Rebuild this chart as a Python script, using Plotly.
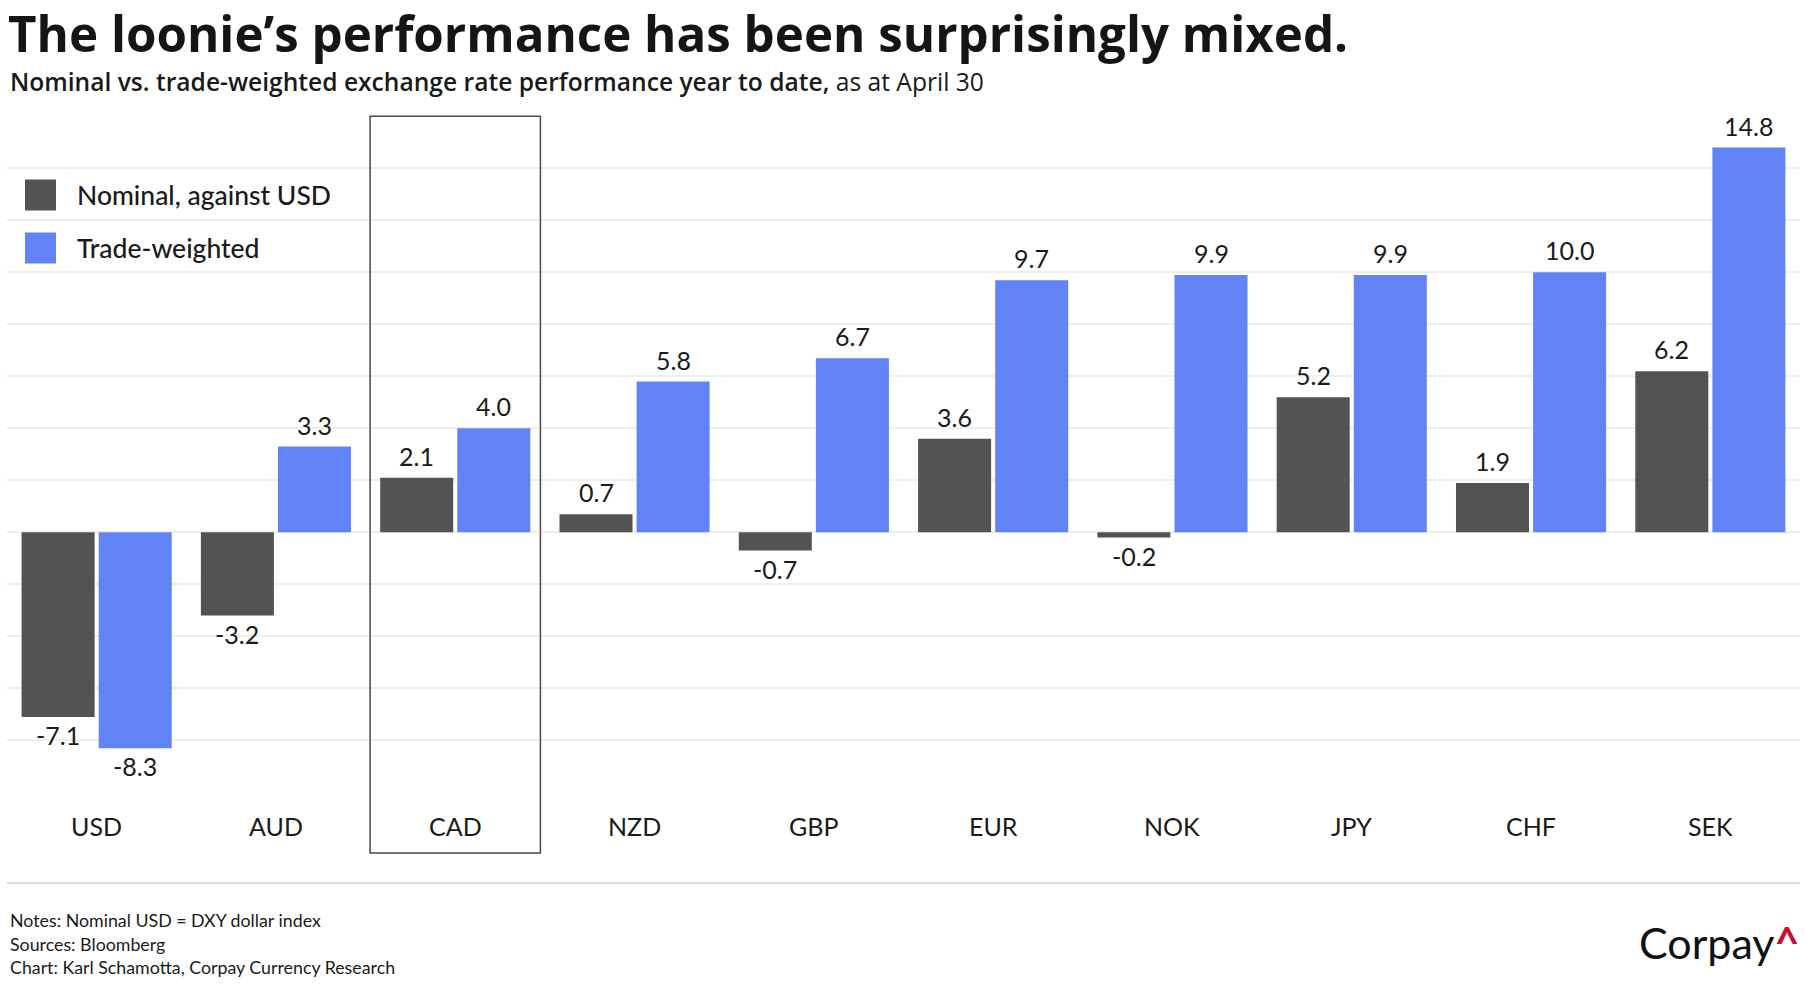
import plotly.graph_objects as go

# ---- data ----
categories = ["USD", "AUD", "CAD", "NZD", "GBP", "EUR", "NOK", "JPY", "CHF", "SEK"]
nominal = [-7.1, -3.2, 2.1, 0.7, -0.7, 3.6, -0.2, 5.2, 1.9, 6.2]
trade_weighted = [-8.3, 3.3, 4.0, 5.8, 6.7, 9.7, 9.9, 9.9, 10.0, 14.8]
series_names = ["Nominal, against USD", "Trade-weighted"]
highlight = "CAD"
grid_vals = list(range(-8, 15, 2))

title = "The loonie\u2019s performance has been surprisingly mixed."
subtitle_bold = "Nominal vs. trade-weighted exchange rate performance year to date,"
subtitle_rest = " as at April 30"
notes = ["Notes: Nominal USD = DXY dollar index",
         "Sources: Bloomberg",
         "Chart: Karl Schamotta, Corpay Currency Research"]

# ---- style ----
W, H = 1807, 1000
ML, MR, MT, MB = 7, 7, 108, 140
COL_NOM = "#535353"
COL_TW = "#6283f5"
FONT = "Lato"
HEAD_FONT = "Open Sans"
TXT = "#1a1a1a"
BARGAP = 0.14
BARGROUPGAP = 0.053
YRANGE = [-12.6, 16.32]

def px2x(px):
    return (px - ML) / (W - ML - MR)

def py2y(py):
    return (H - MB - py) / (H - MT - MB)

fig = go.Figure()
for vals, name, col in [(nominal, series_names[0], COL_NOM),
                        (trade_weighted, series_names[1], COL_TW)]:
    fig.add_trace(go.Bar(x=categories, y=vals, name=name, marker_color=col,
                         marker_line_width=0, showlegend=False))

annotations = []
slot = (1 - BARGAP) / 2
for k, vals in enumerate([nominal, trade_weighted]):
    off = (k - 0.5) * slot
    for i, v in enumerate(vals):
        annotations.append(dict(
            x=i + off, y=v, xref="x", yref="y", text=f"{v:.1f}", showarrow=False,
            yanchor="bottom" if v >= 0 else "top", yshift=5 if v >= 0 else -1,
            font=dict(family=FONT, size=25, color=TXT)))

# category labels
for i, c in enumerate(categories):
    annotations.append(dict(x=i, y=py2y(826), xref="x", yref="paper", text=c,
                            showarrow=False, yanchor="middle",
                            font=dict(family=FONT, size=25, color=TXT)))

# title / subtitle
annotations.append(dict(x=px2x(6), y=py2y(32.5), xref="paper", yref="paper",
                        xanchor="left", yanchor="middle", showarrow=False,
                        text=title,
                        font=dict(family=HEAD_FONT, size=49.3, color="#151515", weight=700)))
annotations.append(dict(x=px2x(8), y=py2y(81), xref="paper", yref="paper",
                        xanchor="left", yanchor="middle", showarrow=False,
                        text=f"<span style='font-weight:600'>{subtitle_bold}</span>{subtitle_rest}",
                        font=dict(family=HEAD_FONT, size=24.6, color=TXT)))

# legend (manual)
shapes = []
for j, (name, col) in enumerate(zip(series_names, [COL_NOM, COL_TW])):
    cy = 195 + j * 53
    shapes.append(dict(type="rect", xref="paper", yref="paper",
                       x0=px2x(25), x1=px2x(56), y0=py2y(cy + 15.5), y1=py2y(cy - 15.5),
                       fillcolor=col, line=dict(width=0)))
    annotations.append(dict(x=px2x(75), y=py2y(cy), xref="paper", yref="paper",
                            xanchor="left", yanchor="middle", showarrow=False, text=name,
                            font=dict(family=FONT, size=26.5, color=TXT, weight=500)))

# highlight box around CAD
hi = categories.index(highlight)
shapes.append(dict(type="rect", xref="x", yref="y", x0=hi - 0.475, x1=hi + 0.475,
                   y0=-12.33, y1=16.0, line=dict(color="#4a4a4a", width=1.5),
                   fillcolor="rgba(0,0,0,0)", layer="above"))

# footer separator
shapes.append(dict(type="line", xref="paper", yref="paper", x0=0, x1=1,
                   y0=py2y(883), y1=py2y(883), line=dict(color="#dddddd", width=2)))

for j, n in enumerate(notes):
    annotations.append(dict(x=px2x(8), y=py2y(920 + j * 23.5), xref="paper", yref="paper",
                            xanchor="left", yanchor="middle", showarrow=False, text=n,
                            font=dict(family=FONT, size=17.8, color=TXT)))

annotations.append(dict(x=px2x(1801), y=py2y(942), xref="paper", yref="paper",
                        xanchor="right", yanchor="middle", showarrow=False,
                        text="Corpay<span style='color:#c8102e'><b>^</b></span>",
                        font=dict(family=FONT, size=43, color="#111111")))

fig.update_layout(
    width=W, height=H,
    margin=dict(l=ML, r=MR, t=MT, b=MB),
    paper_bgcolor="white", plot_bgcolor="white",
    barmode="group", bargap=BARGAP, bargroupgap=BARGROUPGAP,
    xaxis=dict(showticklabels=False, showgrid=False, zeroline=False, showline=False,
               ticks="", fixedrange=True),
    yaxis=dict(range=YRANGE, tickvals=grid_vals, showticklabels=False, showgrid=True,
               gridcolor="#eeeeee", gridwidth=1.5, zeroline=False, showline=False, ticks=""),
    annotations=annotations, shapes=shapes,
    font=dict(family=FONT),
    showlegend=False,
)

fig.write_html("out.html", config={"displayModeBar": False},
               post_script="document.body.style.margin='0px';")
